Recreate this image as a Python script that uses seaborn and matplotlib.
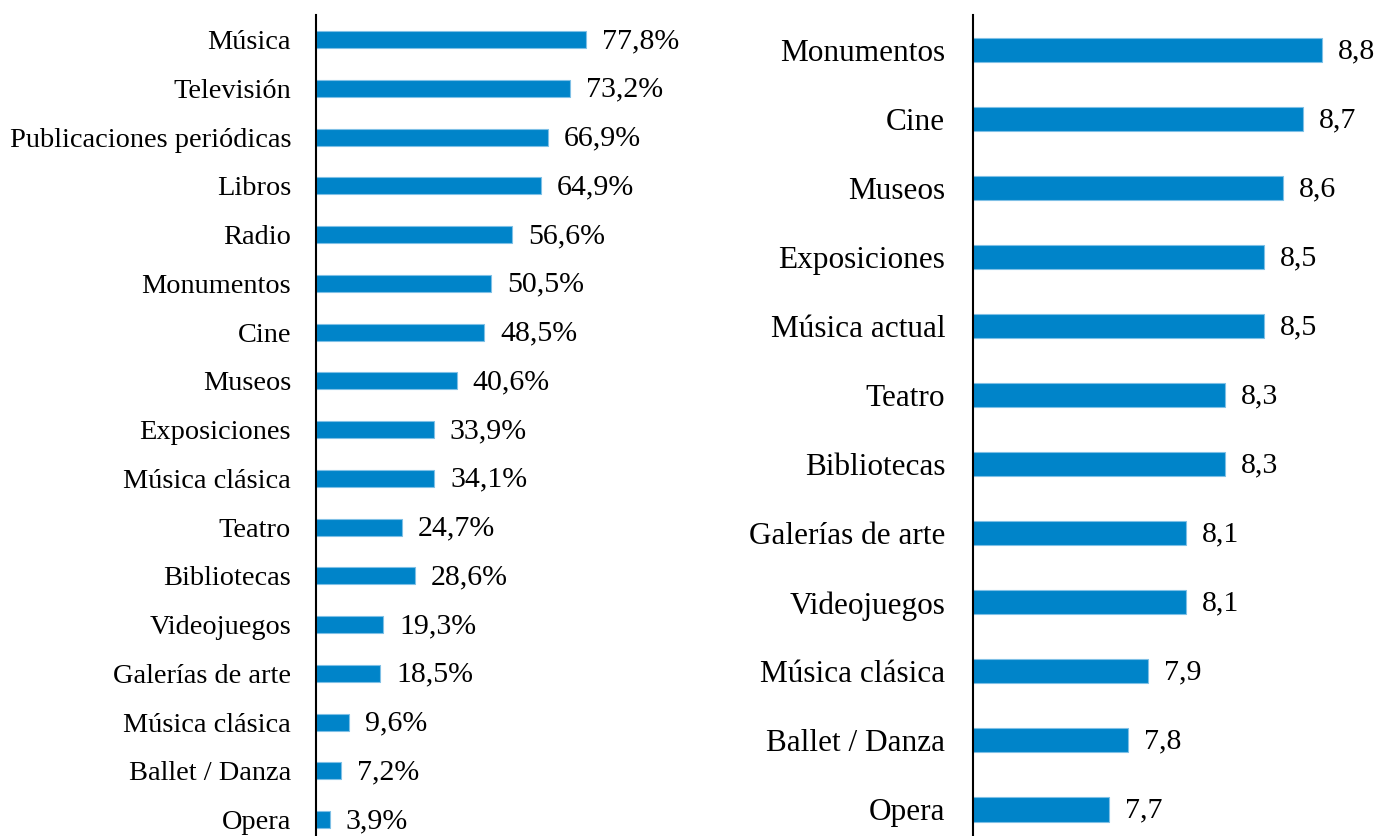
import matplotlib
matplotlib.use("Agg")
import matplotlib.pyplot as plt
import seaborn as sns
import pandas as pd

# datos del grafico izquierdo (porcentaje)
left_labels = ["Música", "Televisión", "Publicaciones periódicas", "Libros", "Radio",
               "Monumentos", "Cine", "Museos", "Exposiciones", "Música clásica",
               "Teatro", "Bibliotecas", "Videojuegos", "Galerías de arte",
               "Música clásica", "Ballet / Danza", "Opera"]
left_values = [77.8, 73.2, 66.9, 64.9, 56.6, 50.5, 48.5, 40.6, 33.9, 34.1,
               24.7, 28.6, 19.3, 18.5, 9.6, 7.2, 3.9]

# datos del grafico derecho (puntuacion)
right_labels = ["Monumentos", "Cine", "Museos", "Exposiciones", "Música actual",
                "Teatro", "Bibliotecas", "Galerías de arte", "Videojuegos",
                "Música clásica", "Ballet / Danza", "Opera"]
right_values = [8.8, 8.7, 8.6, 8.5, 8.5, 8.3, 8.3, 8.1, 8.1, 7.9, 7.8, 7.7]

BLUE = "#0084C9"

sns.set_theme(style="white")
plt.rcParams["font.family"] = ["Liberation Serif", "DejaVu Serif"]
plt.rcParams["text.color"] = "black"
plt.rcParams["ytick.color"] = "black"
plt.rcParams["ytick.labelcolor"] = "black"

W, H = 1376, 836
fig = plt.figure(figsize=(W / 100, H / 100), dpi=100)

top = 1 - 15.2 / H
bottom = -8 / H
ax1 = fig.add_axes([316 / W, bottom, (700 - 316) / W, top - bottom])
ax2 = fig.add_axes([973 / W, bottom, (W - 973) / W, top - bottom])


def draw(ax, labels, values, xlim, fmt, pad, tick_size, val_size):
    df = pd.DataFrame({"pos": range(len(values)), "valor": values})
    sns.barplot(data=df, x="valor", y="pos", orient="h", color=BLUE,
                width=0.35, saturation=1, edgecolor="#7FC0E6", linewidth=0.8, ax=ax)
    ax.set_xlim(*xlim)
    ax.set_ylim(len(values) - 0.5, -0.5)
    ax.set_yticks(range(len(labels)))
    ax.set_yticklabels(labels, fontsize=tick_size, color="black")
    ax.tick_params(axis="y", length=0, pad=pad)
    ax.set_xticks([])
    ax.set_xlabel("")
    ax.set_ylabel("")
    for s in ["top", "right", "bottom"]:
        ax.spines[s].set_visible(False)
    ax.spines["left"].set_color("black")
    ax.spines["left"].set_linewidth(1.5)
    ax.spines["left"].set_zorder(5)
    for i, v in enumerate(values):
        ax.annotate(fmt(v), xy=(v, i), xytext=(11.5, -1), textcoords="offset points",
                    va="center", ha="left", fontsize=val_size, color="black")


draw(ax1, left_labels, left_values, (0, (700 - 316) / 3.47),
     lambda v: f"{v:.1f}%".replace(".", ","), 18, 20.4, 21.5)
draw(ax2, right_labels, right_values, (7.0, 7.0 + (W - 973) / 194.0),
     lambda v: f"{v:.1f}".replace(".", ","), 20, 22.5, 21.5)

fig.savefig("out.png", dpi=100, facecolor="white")
